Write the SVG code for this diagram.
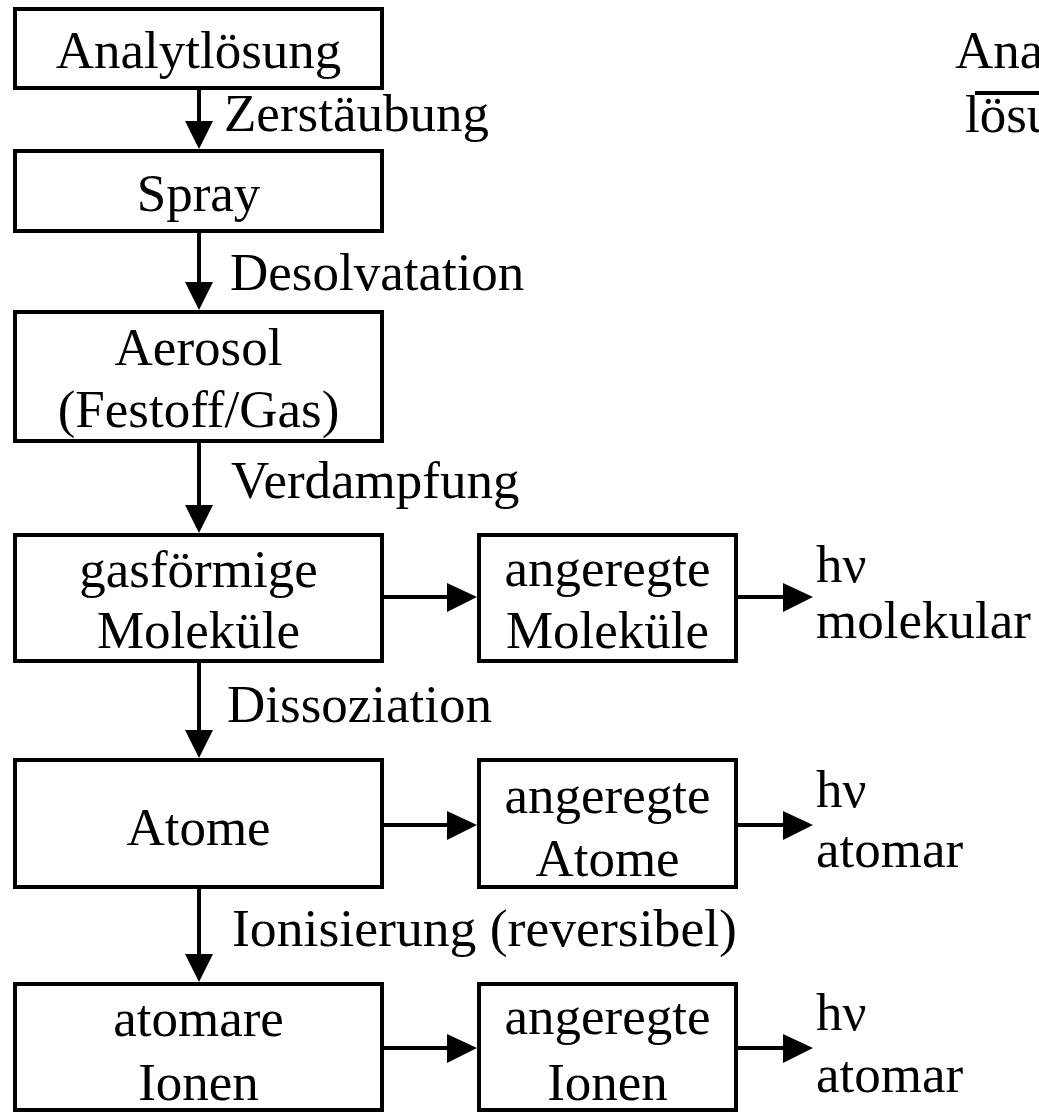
<svg xmlns="http://www.w3.org/2000/svg" width="1039" height="1113" viewBox="0 0 1039 1113">
<style>
.box{fill:#fff;stroke:#000;stroke-width:4}
.t{font-family:"Liberation Serif","Times New Roman",serif;font-size:53px;fill:#000}
.c{text-anchor:middle}
.ln{stroke:#000;stroke-width:4;fill:none}
.hd{fill:#000;stroke:none}
</style>
<rect width="1039" height="1113" fill="#fff"/>
<g id="connectors">
<line class="ln" x1="199" y1="88" x2="199" y2="124"/><polygon class="hd" points="185,121 213,121 199,149"/>
<line class="ln" x1="199" y1="231" x2="199" y2="284"/><polygon class="hd" points="185,282 213,282 199,310"/>
<line class="ln" x1="199" y1="441" x2="199" y2="507"/><polygon class="hd" points="185,505 213,505 199,533"/>
<line class="ln" x1="199" y1="661" x2="199" y2="733"/><polygon class="hd" points="185,730 213,730 199,758"/>
<line class="ln" x1="199" y1="887" x2="199" y2="956"/><polygon class="hd" points="185,954 213,954 199,982"/>
<line class="ln" x1="382" y1="597" x2="450" y2="597"/><polygon class="hd" points="447,583 447,612 477,597"/>
<line class="ln" x1="736" y1="597" x2="786" y2="597"/><polygon class="hd" points="783,583 783,612 813,597"/>
<line class="ln" x1="382" y1="825" x2="450" y2="825"/><polygon class="hd" points="447,811 447,840 477,825"/>
<line class="ln" x1="736" y1="825" x2="786" y2="825"/><polygon class="hd" points="783,811 783,840 813,825"/>
<line class="ln" x1="382" y1="1048" x2="450" y2="1048"/><polygon class="hd" points="447,1034 447,1063 477,1048"/>
<line class="ln" x1="736" y1="1048" x2="786" y2="1048"/><polygon class="hd" points="783,1034 783,1063 813,1048"/>
</g>
<g id="labels">
<text class="t" x="224" y="131">Zerstäubung</text>
<text class="t" x="230" y="290">Desolvatation</text>
<text class="t" x="231" y="498">Verdampfung</text>
<text class="t" x="227" y="722">Dissoziation</text>
<text class="t" x="232" y="946" textLength="505" lengthAdjust="spacingAndGlyphs">Ionisierung (reversibel)</text>
</g>
<g id="n1"><rect class="box" x="15" y="9" width="367" height="79"/><text class="t c" x="198.5" y="68">Analytlösung</text></g>
<g id="n2"><rect class="box" x="15" y="151" width="367" height="80"/><text class="t c" x="198.5" y="211">Spray</text></g>
<g id="n3"><rect class="box" x="15" y="312" width="367" height="129"/><text class="t c" x="198.5" y="365">Aerosol</text><text class="t c" x="198.5" y="427">(Festoff/Gas)</text></g>
<g id="n4"><rect class="box" x="15" y="535" width="367" height="126"/><text class="t c" x="198.5" y="587">gasförmige</text><text class="t c" x="198.5" y="648">Moleküle</text></g>
<g id="n5"><rect class="box" x="15" y="760" width="367" height="127"/><text class="t c" x="198.5" y="845">Atome</text></g>
<g id="n6"><rect class="box" x="15" y="984" width="367" height="126"/><text class="t c" x="198.5" y="1036">atomare</text><text class="t c" x="198.5" y="1100">Ionen</text></g>
<g id="n7"><rect class="box" x="479" y="535" width="257" height="126"/><text class="t c" x="607.5" y="586">angeregte</text><text class="t c" x="607.5" y="648">Moleküle</text></g>
<g id="n8"><rect class="box" x="479" y="760" width="257" height="127"/><text class="t c" x="607.5" y="813">angeregte</text><text class="t c" x="607.5" y="876">Atome</text></g>
<g id="n9"><rect class="box" x="479" y="984" width="257" height="126"/><text class="t c" x="607.5" y="1034">angeregte</text><text class="t c" x="607.5" y="1100">Ionen</text></g>
<g id="out1"><text class="t" x="816" y="582">hν</text><text class="t" x="816" y="638">molekular</text></g>
<g id="out2"><text class="t" x="816" y="807">hν</text><text class="t" x="816" y="867">atomar</text></g>
<g id="out3"><text class="t" x="816" y="1030">hν</text><text class="t" x="816" y="1092">atomar</text></g>
<g id="fragment"><text class="t" x="955" y="68">Ana</text><line class="ln" x1="975" y1="93" x2="1039" y2="93"/><text class="t" x="965" y="132">lösu</text></g>
</svg>
